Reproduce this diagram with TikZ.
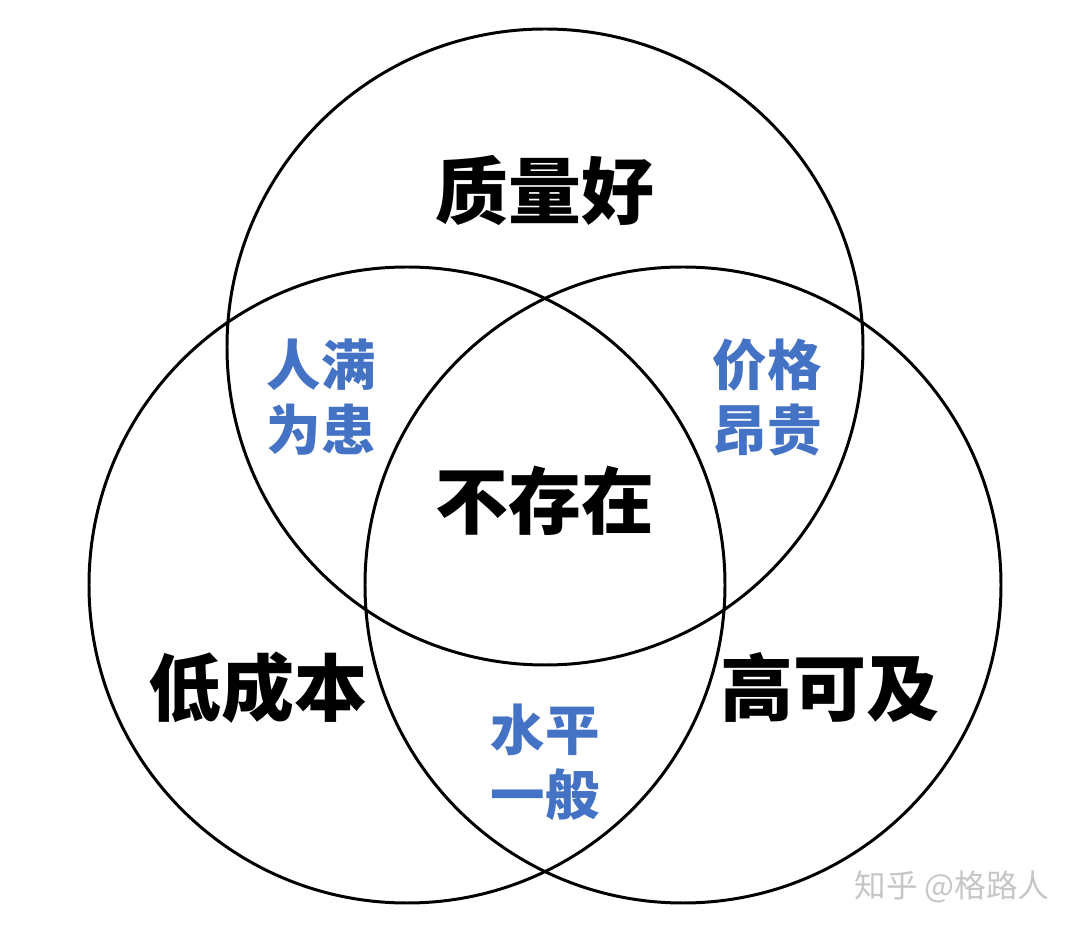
\documentclass[tikz,border=0pt]{standalone}
\usepackage{xcolor}
\usepackage{fontspec}
\newfontfamily\cjk{Noto Sans CJK SC}
\definecolor{labelblue}{HTML}{4472C4}
\usetikzlibrary{positioning}

\begin{document}
\begin{tikzpicture}[x=0.02cm, y=0.02cm,
		ring/.style={line width=1.7pt, black},
		mainlabel/.style={font=\cjk\bfseries\fontsize{41.5}{44}\selectfont, text=black},
		sublabel/.style={font=\cjk\bfseries\fontsize{31}{37}\selectfont, text=labelblue, align=center}]
	\useasboundingbox (0,0) rectangle (1080,934);

	% three circles
	\draw[ring] (545,587) circle[radius=318];
	\draw[ring] (407,349) circle[radius=318];
	\draw[ring] (683,349) circle[radius=318];

	% single sets
	\node[mainlabel] (quality) at (545,744) {质量好};
	\node[mainlabel] (cost) at (258,246) {低成本};
	\node[mainlabel] (reach) at (830,246) {高可及};

	% overlaps
	\node[sublabel] (qc) at (321,537) {人满\\为患};
	\node[sublabel] (qr) at (767,537) {价格\\昂贵};
	\node[sublabel] (cr) at (545,172) {水平\\一般};
	\node[mainlabel] (all) at (545,433) {不存在};

	% watermark
	\node[font=\cjk\fontsize{18}{20}\selectfont, text=gray!45] (mark) at (952,47) {知乎 @格路人};
\end{tikzpicture}
\end{document}
